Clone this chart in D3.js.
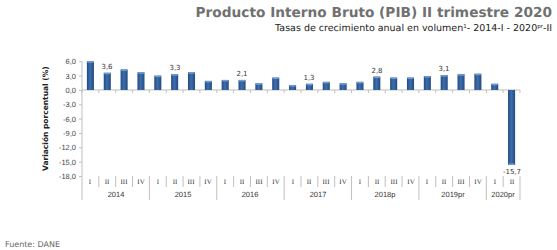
<!DOCTYPE html>
<html>
<head>
<meta charset="utf-8">
<script src="https://cdn.jsdelivr.net/npm/d3@7"></script>
<style>
  body { margin: 0; background: #fff; }
  svg { display: block; }
  text { text-rendering: geometricPrecision; }
</style>
</head>
<body>
<svg width="557" height="250"></svg>
<script>
// data
var years = ["2014", "2015", "2016", "2017", "2018p", "2019pr", "2020pr"];
var quartersPerYear = [4, 4, 4, 4, 4, 4, 2];
var quarterNames = ["I", "II", "III", "IV"];
var values = [6.0, 3.6, 4.3, 3.7,
              3.0, 3.3, 3.7, 1.9,
              2.1, 2.1, 1.4, 2.6,
              1.0, 1.3, 1.7, 1.4,
              1.7, 2.8, 2.6, 2.6,
              2.9, 3.1, 3.3, 3.4,
              1.3, -15.7];
var labelled = ["II"]; // quarter that carries a data label
var yTicks = [-18, -15, -12, -9, -6, -3, 0, 3, 6];

var svg = d3.select("svg"),
	plot = {left: 82, right: 520, top: 61.3, bottom: 176};

var cats = [];
years.forEach(function(yr, i) {
	for (var q = 0; q < quartersPerYear[i]; q++)
		cats.push({year: yr, quarter: quarterNames[q], value: values[cats.length]});
});

var x = d3.scaleBand()
	.domain(d3.range(cats.length))
	.range([plot.left, plot.right])
	.paddingInner(0.58)
	.paddingOuter(0.29);

var y = d3.scaleLinear()
	.domain([d3.min(yTicks), d3.max(yTicks)])
	.range([plot.bottom, plot.top]);

var comma = function(d) { return d.toFixed(1).replace(".", ","); };

// gradient for the bars
var defs = svg.append("defs");
var grad = defs.append("linearGradient").attr("id", "barGrad")
	.attr("x1", "0").attr("x2", "1").attr("y1", "0").attr("y2", "0");
grad.append("stop").attr("offset", "0%").attr("stop-color", "#224c80");
grad.append("stop").attr("offset", "45%").attr("stop-color", "#3f6eae");
grad.append("stop").attr("offset", "100%").attr("stop-color", "#224c80");

// titles
svg.append("text")
	.attr("x", 552).attr("y", 17)
	.attr("text-anchor", "end")
	.style("font-family", "DejaVu Sans")
	.style("font-weight", "bold")
	.style("font-size", "13.7px")
	.style("fill", "#707070")
	.text("Producto Interno Bruto (PIB) II trimestre 2020");

var sub = svg.append("text")
	.attr("x", 552).attr("y", 31)
	.attr("text-anchor", "end")
	.style("font-family", "DejaVu Sans")
	.style("font-size", "9.5px")
	.style("fill", "#222");
sub.append("tspan").text("Tasas de crecimiento anual en volumen");
sub.append("tspan").attr("dy", -3).style("font-size", "5.5px").text("1");
sub.append("tspan").attr("dy", 3).text("-  2014-I - 2020");
sub.append("tspan").attr("dy", -3).style("font-size", "5.5px").text("pr");
sub.append("tspan").attr("dy", 3).text("-II");

// y axis
var yAxis = svg.append("g")
	.attr("transform", "translate(" + plot.left + ",0)")
	.call(d3.axisLeft(y).tickValues(yTicks).tickFormat(comma).tickSize(3).tickPadding(3));
yAxis.select(".domain").remove();
yAxis.selectAll("line").attr("stroke", "#bfbfbf");
yAxis.selectAll("text")
	.style("font-family", "Liberation Sans")
	.style("font-size", "7.5px")
	.style("fill", "#444");

svg.append("line")
	.attr("x1", plot.left).attr("x2", plot.left)
	.attr("y1", plot.top).attr("y2", 200)
	.attr("stroke", "#bfbfbf");

svg.append("text")
	.attr("transform", "translate(48," + ((plot.top + plot.bottom) / 2) + ") rotate(-90)")
	.attr("text-anchor", "middle")
	.style("font-family", "DejaVu Sans")
	.style("font-weight", "bold")
	.style("font-size", "7.5px")
	.style("fill", "#222")
	.text("Variación porcentual (%)");

// zero line with ticks between categories
svg.append("line")
	.attr("x1", plot.left).attr("x2", plot.right)
	.attr("y1", y(0)).attr("y2", y(0))
	.attr("stroke", "#bfbfbf");
var step = x.step();
svg.selectAll(".ztick")
	.data(d3.range(cats.length + 1))
	.enter().append("line")
	.attr("class", "ztick")
	.attr("x1", function(i) { return plot.left + i * step; })
	.attr("x2", function(i) { return plot.left + i * step; })
	.attr("y1", y(0)).attr("y2", y(0) + 3)
	.attr("stroke", "#bfbfbf");

// bars
var bars = svg.selectAll(".bar")
	.data(cats)
	.enter().append("g")
	.attr("class", "bar");
bars.append("rect")
	.attr("x", function(d, i) { return x(i); })
	.attr("width", x.bandwidth())
	.attr("y", function(d) { return y(Math.max(0, d.value)); })
	.attr("height", function(d) { return Math.abs(y(d.value) - y(0)); })
	.attr("fill", "url(#barGrad)");
bars.append("rect")
	.attr("x", function(d, i) { return x(i) + 0.5; })
	.attr("width", x.bandwidth() - 1)
	.attr("y", function(d) { return d.value >= 0 ? y(d.value) : y(d.value) - 1.5; })
	.attr("height", 1.5)
	.attr("fill", "#719cd4");

// data labels
svg.selectAll(".dlabel")
	.data(cats.filter(function(d) { return labelled.indexOf(d.quarter) >= 0; }))
	.enter().append("text")
	.attr("class", "dlabel")
	.attr("x", function(d) { return Math.round(x(cats.indexOf(d)) + x.bandwidth() / 2); })
	.attr("y", function(d) { return d.value >= 0 ? y(d.value) - 4 : y(d.value) + 9; })
	.attr("text-anchor", "middle")
	.style("font-family", "DejaVu Sans")
	.style("font-size", "7px")
	.style("fill", "#333")
	.text(function(d) { return comma(d.value); });

// category labels: quarters and years
var catText = function(sel) {
	sel.style("font-family", "Liberation Sans")
		.style("font-size", "7.5px")
		.style("fill", "#333")
		.attr("text-anchor", "middle");
};
svg.selectAll(".qlabel")
	.data(cats)
	.enter().append("text")
	.attr("class", "qlabel")
	.attr("x", function(d, i) { return Math.round(x(i) + x.bandwidth() / 2); })
	.attr("y", 184)
	.text(function(d) { return d.quarter; })
	.call(catText)
	.style("font-family", "Liberation Serif")
	.style("font-size", "7px");

svg.selectAll(".qsep")
	.data(d3.range(1, cats.length + 1))
	.enter().append("line")
	.attr("class", "qsep")
	.attr("x1", function(i) { return plot.left + i * step; })
	.attr("x2", function(i) { return plot.left + i * step; })
	.attr("y1", plot.bottom)
	.attr("y2", function(i) { return (cats[i] && cats[i].quarter !== "I") ? 187 : 200; })
	.attr("stroke", "#bfbfbf");

var start = 0;
years.forEach(function(yr, i) {
	var n = quartersPerYear[i];
	svg.append("text")
		.attr("x", Math.round(plot.left + (start + n / 2) * step))
		.attr("y", 197)
		.text(yr)
		.call(catText);
	start += n;
});

svg.append("text")
	.attr("x", 5).attr("y", 247)
	.style("font-family", "DejaVu Sans")
	.style("font-size", "8px")
	.style("fill", "#666")
	.text("Fuente: DANE");
</script>
</body>
</html>
